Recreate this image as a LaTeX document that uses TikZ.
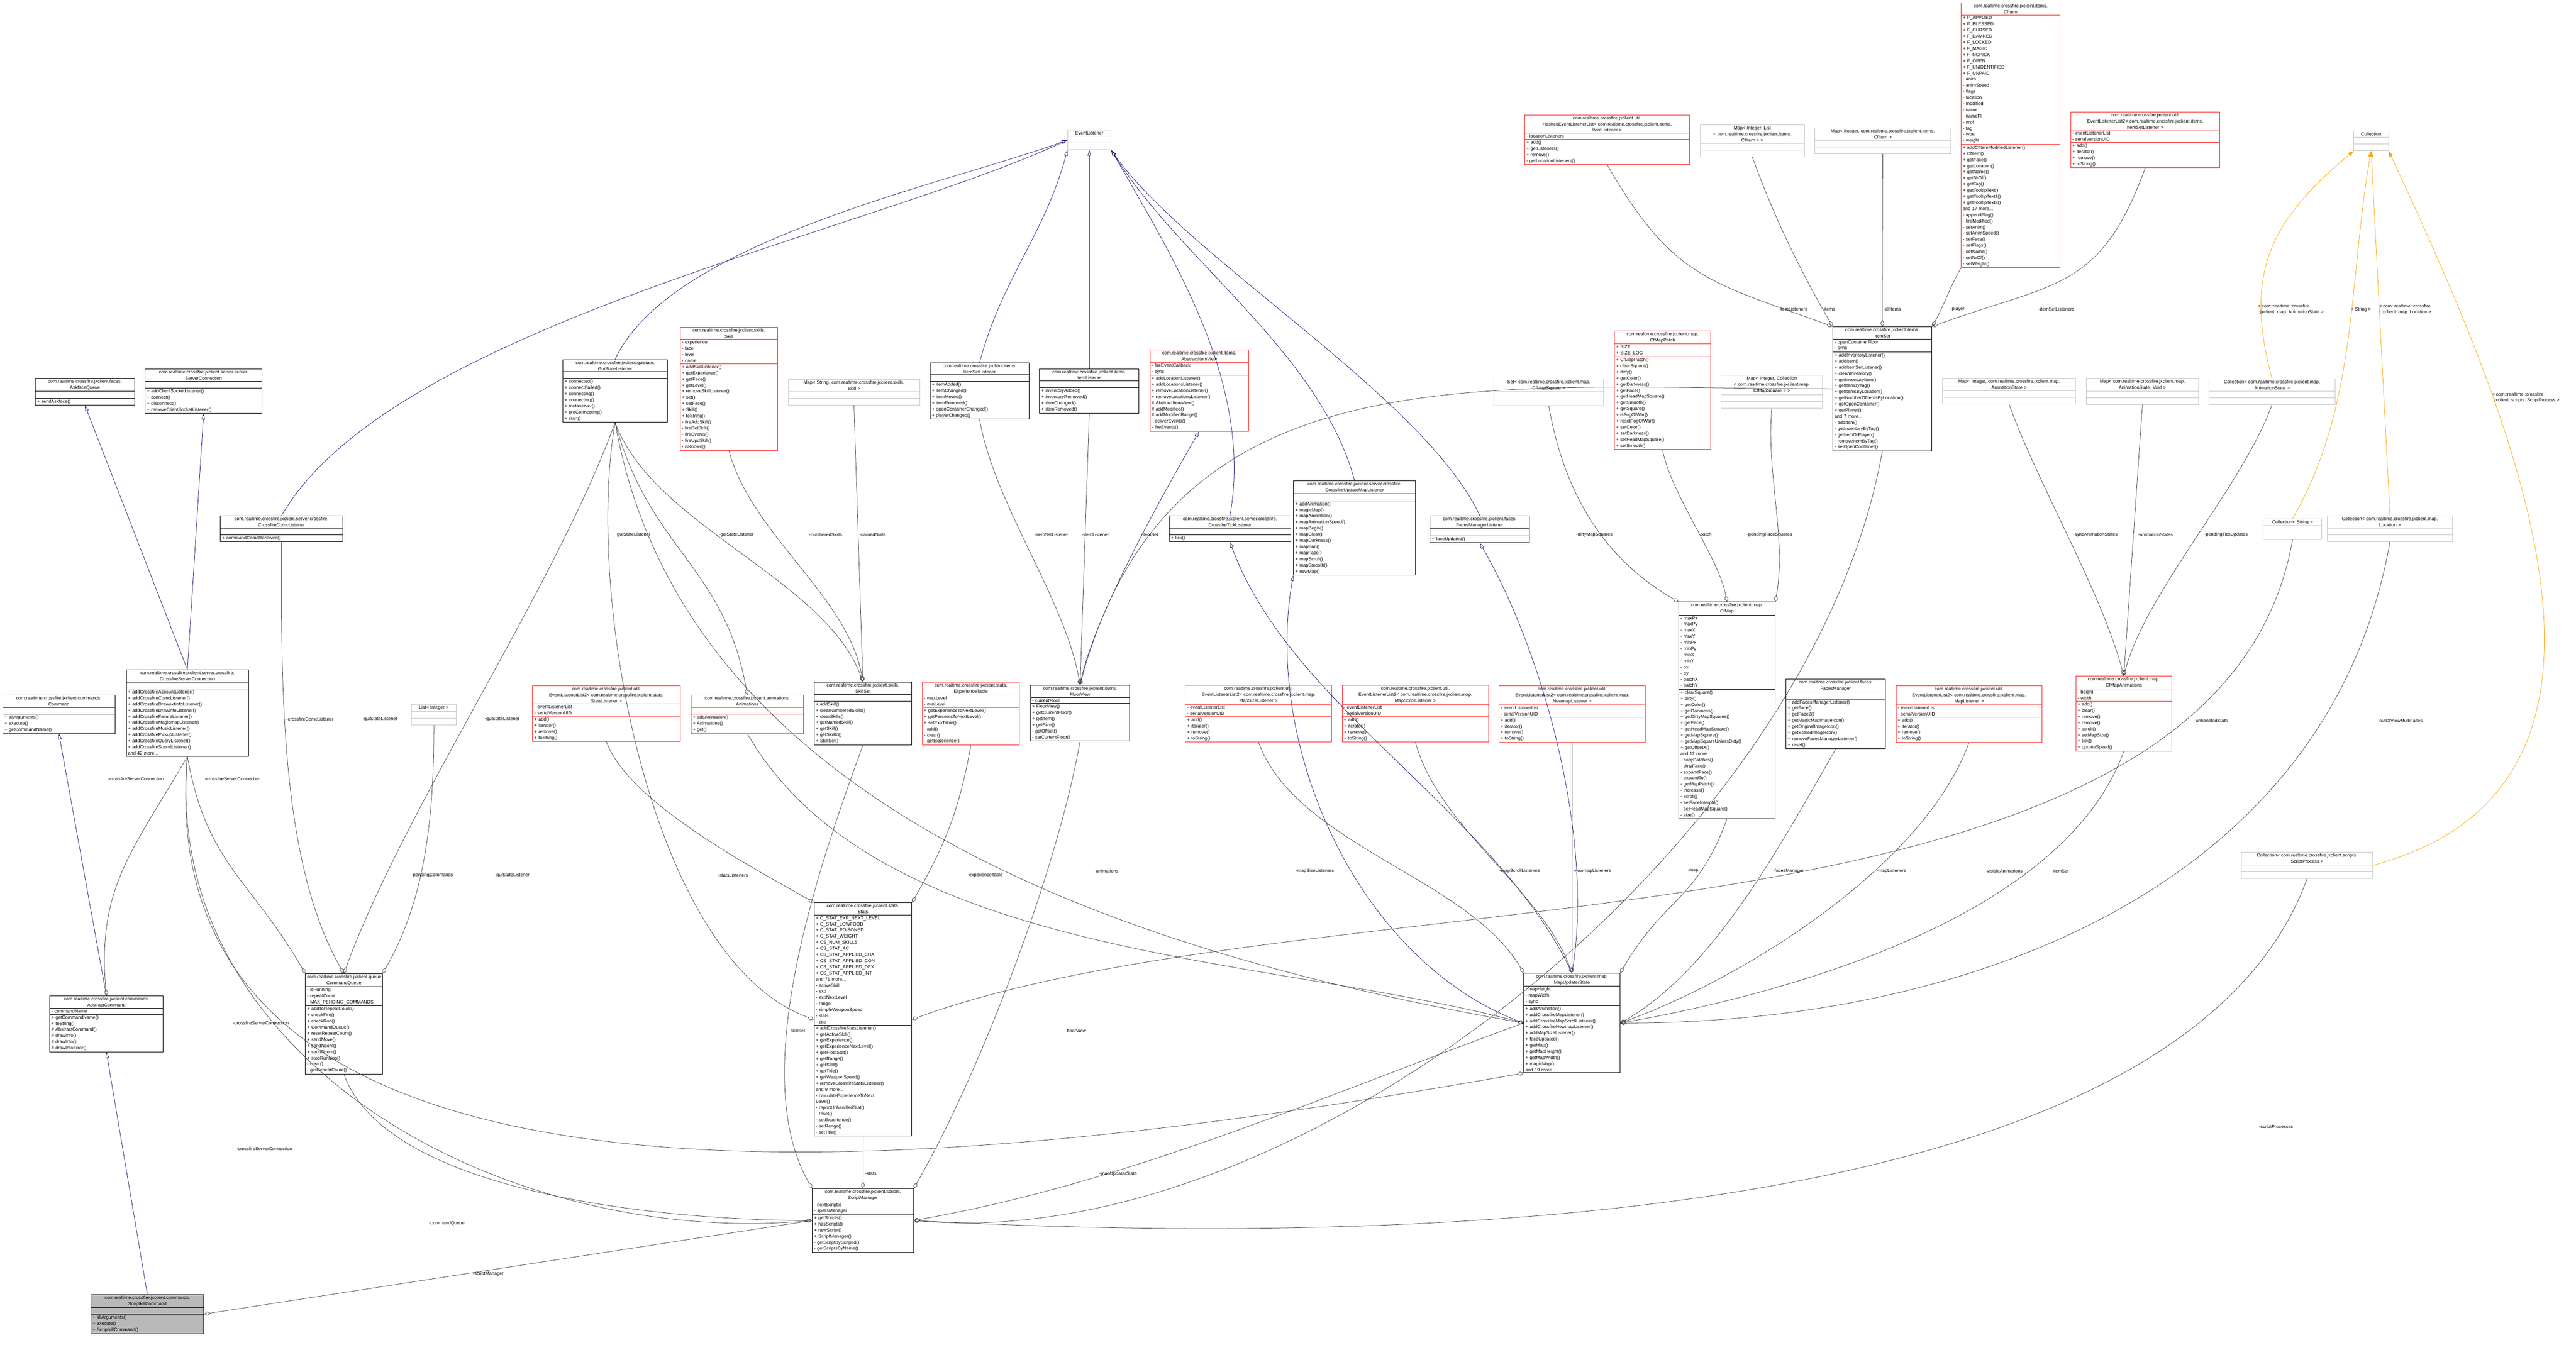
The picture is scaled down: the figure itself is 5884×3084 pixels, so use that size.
\documentclass[tikz,border=0pt]{standalone}
\usepackage{fontspec}
\setmainfont{Liberation Sans}
\usetikzlibrary{arrows.meta,shapes.multipart}

\definecolor{edgegray}{HTML}{404040}
\definecolor{inhblue}{HTML}{191970}
\definecolor{tmplorange}{HTML}{FFA500}

% class box: name, x, y (top left, pixels), width, style, title, attributes, methods
\newcommand\umlclass[8]{%
  \node[#5, text width=#4pt-8pt] (#1) at (#2,#3)
    {\centering #6\par\nodepart{second}#7\nodepart{third}#8};}
% curved connector: style, from, angle out, to, angle in, length (angles as on paper)
\newcommand\bend[6]{\draw[#1] (#2) .. controls +(-#3:#6) and +(-#5:#6) .. (#4);}

\tikzset{
  cls/.style={rectangle split, rectangle split parts=3, draw=black, line width=1.1pt,
    anchor=north west, align=left, inner xsep=4pt, inner ysep=2.5pt,
    font=\fontsize{10.5}{14}\selectfont},
  redcls/.style={cls, draw=red!85},
  tmplcls/.style={cls, draw=gray!45},
  hlcls/.style={cls, fill=gray!55},
  agg/.style={{Diamond[open,length=15pt,width=9pt]}-, draw=edgegray, line width=0.9pt},
  inh/.style={-{Triangle[open,length=13pt,width=8pt]}, draw=inhblue, line width=0.9pt},
  tmpl/.style={-{Triangle[length=13pt,width=9pt]}, draw=tmplorange, line width=0.9pt},
  lab/.style={anchor=west, inner sep=0pt, font=\fontsize{10.5}{12}\selectfont},
}

\newcommand\nil{\vphantom{Ag}}

\begin{document}
\begin{tikzpicture}[x=1pt,y=-1pt]
  \useasboundingbox (0,0) rectangle (5884,3084);

  % top row
  \umlclass{evl}{2438}{297}{99}{tmplcls}{EventListener}{\nil}{\nil}
  \umlclass{coll}{5376}{299}{79}{tmplcls}{Collection}{\nil}{\nil}
  \umlclass{hel}{3482}{262}{377}{redcls}{com.realtime.crossfire.jxclient.util.\\HashedEventListenerList< com.realtime.crossfire.jxclient.items.\\ItemListener >}{- locationListeners}{+ add()\\+ getListeners()\\+ remove()\\- getLocationListeners()}
  \umlclass{mil}{3883}{285}{238}{tmplcls}{Map< Integer, List\\< com.realtime.crossfire.jxclient.items.\\CfItem > >}{\nil}{\nil}
  \umlclass{mii}{4145}{292}{310}{tmplcls}{Map< Integer, com.realtime.crossfire.jxclient.items.\\CfItem >}{\nil}{\nil}
  \umlclass{cfitem}{4479}{6}{226}{redcls}{com.realtime.crossfire.jxclient.items.\\CfItem}{+ F\_APPLIED\\+ F\_BLESSED\\+ F\_CURSED\\+ F\_DAMNED\\+ F\_LOCKED\\+ F\_MAGIC\\+ F\_NOPICK\\+ F\_OPEN\\+ F\_UNIDENTIFIED\\+ F\_UNPAID\\- anim\\- animSpeed\\- flags\\- location\\- modified\\- name\\- namePl\\- nrof\\- tag\\- type\\- weight}{+ addCfItemModifiedListener()\\+ CfItem()\\+ getFace()\\+ getLocation()\\+ getName()\\+ getNrOf()\\+ getTag()\\+ getTooltipText()\\+ getTooltipText1()\\+ getTooltipText2()\\and 17 more...\\- appendFlag()\\- fireModified()\\- setAnim()\\- setAnimSpeed()\\- setFace()\\- setFlags()\\- setName()\\- setNrOf()\\- setWeight()}
  \umlclass{isll}{4729}{255}{341}{redcls}{com.realtime.crossfire.jxclient.util.\\EventListenerList2< com.realtime.crossfire.jxclient.items.\\ItemSetListener >}{- eventListenerList\\- serialVersionUID}{+ add()\\+ iterator()\\+ remove()\\+ toString()}

  % second row
  \umlclass{afq}{80}{864}{227}{cls}{com.realtime.crossfire.jxclient.faces.\\AskfaceQueue}{\nil}{+ sendAskface()}
  \umlclass{sc}{331}{843}{267}{cls}{com.realtime.crossfire.jxclient.server.server.\\ServerConnection}{\nil}{+ addClientSocketListener()\\+ connect()\\+ disconnect()\\+ removeClientSocketListener()}
  \umlclass{gsl}{1285}{821}{239}{cls}{com.realtime.crossfire.jxclient.guistate.\\GuiStateListener}{\nil}{+ connected()\\+ connectFailed()\\+ connecting()\\+ connecting()\\+ metaserver()\\+ preConnecting()\\+ start()}
  \umlclass{skill}{1553}{747}{223}{redcls}{com.realtime.crossfire.jxclient.skills.\\Skill}{- experience\\- face\\- level\\- name}{+ addSkillListener()\\+ getExperience()\\+ getFace()\\+ getLevel()\\+ removeSkillListener()\\+ set()\\+ setFace()\\+ Skill()\\+ toString()\\- fireAddSkill()\\- fireDelSkill()\\- fireEvents()\\- fireUpdSkill()\\- isKnown()}
  \umlclass{mss}{1800}{866}{300}{tmplcls}{Map< String, com.realtime.crossfire.jxclient.skills.\\Skill >}{\nil}{\nil}
  \umlclass{isl}{2124}{828}{226}{cls}{com.realtime.crossfire.jxclient.items.\\ItemSetListener}{\nil}{+ itemAdded()\\+ itemChanged()\\+ itemMoved()\\+ itemRemoved()\\+ openContainerChanged()\\+ playerChanged()}
  \umlclass{il}{2374}{842}{227}{cls}{com.realtime.crossfire.jxclient.items.\\ItemListener}{\nil}{+ inventoryAdded()\\+ inventoryRemoved()\\+ itemChanged()\\+ itemRemoved()}
  \umlclass{aiv}{2626}{799}{225}{redcls}{com.realtime.crossfire.jxclient.items.\\AbstractItemView}{- fireEventCallback\\- sync}{+ addLocationListener()\\+ addLocationsListener()\\+ removeLocationListener()\\+ removeLocationsListener()\\\# AbstractItemView()\\\# addModified()\\\# addModifiedRange()\\- deliverEvents()\\- fireEvents()}
  \umlclass{setsq}{3412}{865}{250}{tmplcls}{Set< com.realtime.crossfire.jxclient.map.\\CfMapSquare >}{\nil}{\nil}
  \umlclass{patch}{3687}{755}{220}{redcls}{com.realtime.crossfire.jxclient.map.\\CfMapPatch}{+ SIZE\\+ SIZE\_LOG}{+ CfMapPatch()\\+ clearSquare()\\+ dirty()\\+ getColor()\\+ getDarkness()\\+ getFace()\\+ getHeadMapSquare()\\+ getSmooth()\\+ getSquare()\\+ isFogOfWar()\\+ resetFogOfWar()\\+ setColor()\\+ setDarkness()\\+ setHeadMapSquare()\\+ setSmooth()}
  \umlclass{mic}{3931}{857}{231}{tmplcls}{Map< Integer, Collection\\< com.realtime.crossfire.jxclient.map.\\CfMapSquare > >}{\nil}{\nil}
  \umlclass{itemset}{4186}{746}{226}{cls}{com.realtime.crossfire.jxclient.items.\\ItemSet}{- openContainerFloor\\- sync}{+ addInventoryListener()\\+ addItem()\\+ addItemSetListener()\\+ cleanInventory()\\+ getInventoryItem()\\+ getItemByTag()\\+ getItemsByLocation()\\+ getNumberOfItemsByLocation()\\+ getOpenContainer()\\+ getPlayer()\\and 7 more...\\- addItem()\\- getInventoryByTag()\\- getItemOrPlayer()\\- removeItemByTag()\\- setOpenContainer()}
  \umlclass{mia}{4437}{864}{303}{tmplcls}{Map< Integer, com.realtime.crossfire.jxclient.map.\\AnimationState >}{\nil}{\nil}
  \umlclass{mav}{4765}{864}{256}{tmplcls}{Map< com.realtime.crossfire.jxclient.map.\\AnimationState, Void >}{\nil}{\nil}
  \umlclass{cas}{5045}{865}{288}{tmplcls}{Collection< com.realtime.crossfire.jxclient.map.\\AnimationState >}{\nil}{\nil}

  % listeners row
  \umlclass{ccl}{503}{1178}{279}{cls}{com.realtime.crossfire.jxclient.server.crossfire.\\CrossfireComcListener}{\nil}{+ commandComcReceived()}
  \umlclass{ctl}{2670}{1178}{278}{cls}{com.realtime.crossfire.jxclient.server.crossfire.\\CrossfireTickListener}{\nil}{+ tick()}
  \umlclass{cuml}{2954}{1098}{279}{cls}{com.realtime.crossfire.jxclient.server.crossfire.\\CrossfireUpdateMapListener}{\nil}{+ addAnimation()\\+ magicMap()\\+ mapAnimation()\\+ mapAnimationSpeed()\\+ mapBegin()\\+ mapClear()\\+ mapDarkness()\\+ mapEnd()\\+ mapFace()\\+ mapScroll()\\+ mapSmooth()\\+ newMap()}
  \umlclass{fml}{3266}{1178}{227}{cls}{com.realtime.crossfire.jxclient.faces.\\FacesManagerListener}{\nil}{+ faceUpdated()}
  \umlclass{cstr}{5169}{1185}{134}{tmplcls}{Collection< String >}{\nil}{\nil}
  \umlclass{cloc}{5315}{1178}{287}{tmplcls}{Collection< com.realtime.crossfire.jxclient.map.\\Location >}{\nil}{\nil}
  \umlclass{cfmap}{3834}{1375}{220}{cls}{com.realtime.crossfire.jxclient.map.\\CfMap}{- maxPx\\- maxPy\\- maxX\\- maxY\\- minPx\\- minPy\\- minX\\- minY\\- ox\\- oy\\- patchX\\- patchY}{+ clearSquare()\\+ dirty()\\+ getColor()\\+ getDarkness()\\+ getDirtyMapSquares()\\+ getFace()\\+ getHeadMapSquare()\\+ getMapSquare()\\+ getMapSquareUnlessDirty()\\+ getOffsetX()\\and 12 more...\\- copyPatches()\\- dirtyFace()\\- expandFace()\\- expandTo()\\- getMapPatch()\\- increase()\\- scroll()\\- setFaceInternal()\\- setHeadMapSquare()\\- size()}

  % middle row
  \umlclass{csc}{288}{1530}{279}{cls}{com.realtime.crossfire.jxclient.server.crossfire.\\CrossfireServerConnection}{\nil}{+ addCrossfireAccountListener()\\+ addCrossfireComcListener()\\+ addCrossfireDrawextinfoListener()\\+ addCrossfireDrawinfoListener()\\+ addCrossfireFailureListener()\\+ addCrossfireMagicmapListener()\\+ addCrossfireMusicListener()\\+ addCrossfirePickupListener()\\+ addCrossfireQueryListener()\\+ addCrossfireSoundListener()\\and 42 more...}
  \umlclass{cmd}{6}{1588}{256}{cls}{com.realtime.crossfire.jxclient.commands.\\Command}{\nil}{+ allArguments()\\+ execute()\\+ getCommandName()}
  \umlclass{sll}{1216}{1566}{337}{redcls}{com.realtime.crossfire.jxclient.util.\\EventListenerList2< com.realtime.crossfire.jxclient.stats.\\StatsListener >}{- eventListenerList\\- serialVersionUID}{+ add()\\+ iterator()\\+ remove()\\+ toString()}
  \umlclass{anims}{1578}{1588}{257}{redcls}{com.realtime.crossfire.jxclient.animations.\\Animations}{\nil}{+ addAnimation()\\+ Animations()\\+ get()}
  \umlclass{lint}{939}{1609}{103}{tmplcls}{List< Integer >}{\nil}{\nil}
  \umlclass{skillset}{1859}{1558}{223}{cls}{com.realtime.crossfire.jxclient.skills.\\SkillSet}{\nil}{+ addSkill()\\+ clearNumberedSkills()\\+ clearSkills()\\+ getNamedSkill()\\+ getSkill()\\+ getSkillId()\\+ SkillSet()}
  \umlclass{exptab}{2106}{1558}{222}{redcls}{com.realtime.crossfire.jxclient.stats.\\ExperienceTable}{- maxLevel\\- minLevel}{+ getExperienceToNextLevel()\\+ getPercentsToNextLevel()\\+ setExpTable()\\- add()\\- clear()\\- getExperience()}
  \umlclass{floor}{2353}{1565}{227}{cls}{com.realtime.crossfire.jxclient.items.\\FloorView}{- currentFloor}{+ FloorView()\\+ getCurrentFloor()\\+ getItem()\\+ getSize()\\- getOffset()\\- setCurrentFloor()}
  \umlclass{msl}{2707}{1565}{334}{redcls}{com.realtime.crossfire.jxclient.util.\\EventListenerList2< com.realtime.crossfire.jxclient.map.\\MapSizeListener >}{- eventListenerList\\- serialVersionUID}{+ add()\\+ iterator()\\+ remove()\\+ toString()}
  \umlclass{mscl}{3065}{1565}{335}{redcls}{com.realtime.crossfire.jxclient.util.\\EventListenerList2< com.realtime.crossfire.jxclient.map.\\MapScrollListener >}{- eventListenerList\\- serialVersionUID}{+ add()\\+ iterator()\\+ remove()\\+ toString()}
  \umlclass{nml}{3423}{1566}{335}{redcls}{com.realtime.crossfire.jxclient.util.\\EventListenerList2< com.realtime.crossfire.jxclient.map.\\NewmapListener >}{- eventListenerList\\- serialVersionUID}{+ add()\\+ iterator()\\+ remove()\\+ toString()}
  \umlclass{fm}{4079}{1551}{227}{cls}{com.realtime.crossfire.jxclient.faces.\\FacesManager}{\nil}{+ addFacesManagerListener()\\+ getFace()\\+ getFace2()\\+ getMagicMapImageIcon()\\+ getOriginalImageIcon()\\+ getScaledImageIcon()\\+ removeFacesManagerListener()\\+ reset()}
  \umlclass{mll}{4330}{1566}{334}{redcls}{com.realtime.crossfire.jxclient.util.\\EventListenerList2< com.realtime.crossfire.jxclient.map.\\MapListener >}{- eventListenerList\\- serialVersionUID}{+ add()\\+ iterator()\\+ remove()\\+ toString()}
  \umlclass{cfma}{4741}{1544}{219}{redcls}{com.realtime.crossfire.jxclient.map.\\CfMapAnimations}{- height\\- width}{+ add()\\+ clear()\\+ remove()\\+ remove()\\+ scroll()\\+ setMapSize()\\+ tick()\\+ updateSpeed()}
  \umlclass{csp}{5119}{1946}{300}{tmplcls}{Collection< com.realtime.crossfire.jxclient.scripts.\\ScriptProcess >}{\nil}{\nil}

  % lower rows
  \umlclass{stats}{1859}{2062}{223}{cls}{com.realtime.crossfire.jxclient.stats.\\Stats}{+ C\_STAT\_EXP\_NEXT\_LEVEL\\+ C\_STAT\_LOWFOOD\\+ C\_STAT\_POISONED\\+ C\_STAT\_WEIGHT\\+ CS\_NUM\_SKILLS\\+ CS\_STAT\_AC\\+ CS\_STAT\_APPLIED\_CHA\\+ CS\_STAT\_APPLIED\_CON\\+ CS\_STAT\_APPLIED\_DEX\\+ CS\_STAT\_APPLIED\_INT\\and 71 more...\\- activeSkill\\- exp\\- expNextLevel\\- range\\- simpleWeaponSpeed\\- stats\\- title}{+ addCrossfireStatsListener()\\+ getActiveSkill()\\+ getExperience()\\+ getExperienceNextLevel()\\+ getFloatStat()\\+ getRange()\\+ getStat()\\+ getTitle()\\+ getWeaponSpeed()\\+ removeCrossfireStatsListener()\\and 9 more...\\- calculateExperienceToNext\\Level()\\- reportUnhandledStat()\\- reset()\\- setExperience()\\- setRange()\\- setTitle()}
  \umlclass{cq}{697}{2224}{176}{cls}{com.realtime.crossfire.jxclient.queue.\\CommandQueue}{- isRunning\\- repeatCount\\- MAX\_PENDING\_COMMANDS}{+ addToRepeatCount()\\+ checkFire()\\+ checkRun()\\+ CommandQueue()\\+ resetRepeatCount()\\+ sendMove()\\+ sendNcom()\\+ sendNcom()\\+ stopRunning()\\- clear()\\- getRepeatCount()}
  \umlclass{mus}{3480}{2223}{220}{cls}{com.realtime.crossfire.jxclient.map.\\MapUpdaterState}{- mapHeight\\- mapWidth\\- sync}{+ addAnimation()\\+ addCrossfireMapListener()\\+ addCrossfireMapScrollListener()\\+ addCrossfireNewmapListener()\\+ addMapSizeListener()\\+ faceUpdated()\\+ getMap()\\+ getMapHeight()\\+ getMapWidth()\\+ magicMap()\\and 19 more...}
  \umlclass{acmd}{113}{2275}{259}{cls}{com.realtime.crossfire.jxclient.commands.\\AbstractCommand}{- commandName}{+ getCommandName()\\+ toString()\\\# AbstractCommand()\\\# drawInfo()\\\# drawInfo()\\\# drawInfoError()}
  \umlclass{sm}{1855}{2715}{231}{cls}{com.realtime.crossfire.jxclient.scripts.\\ScriptManager}{- nextScriptId\\- spellsManager}{+ getScripts()\\+ hasScripts()\\+ newScript()\\+ ScriptManager()\\- getScriptByScriptId()\\- getScriptsByName()}
  \umlclass{skc}{207}{2957}{258}{hlcls}{com.realtime.crossfire.jxclient.commands.\\ScriptkillCommand}{\nil}{+ allArguments()\\+ execute()\\+ ScriptkillCommand()}

  % inheritance
  \draw[inh] (skc.north) -- (acmd.south);
  \draw[inh] (acmd.north) -- (cmd.south);
  \draw[inh] (csc.north) -- (afq.south);
  \draw[inh] (csc.north) -- (sc.south);
  \bend{inh}{ccl.north}{60}{evl.west}{205}{500}
  \bend{inh}{gsl.north}{65}{evl.west}{200}{300}
  \bend{inh}{isl.north}{75}{evl.south west}{255}{200}
  \draw[inh] (il.north) -- (evl.south);
  \bend{inh}{ctl.north}{80}{evl.south east}{-60}{300}
  \bend{inh}{cuml.north}{105}{evl.south east}{-58}{300}
  \bend{inh}{fml.north}{115}{evl.south east}{-55}{300}
  \bend{inh}{floor.north}{80}{aiv.south}{240}{150}
  \bend{inh}{mus.north}{115}{ctl.south}{-70}{400}
  \bend{inh}{mus.west}{160}{cuml.south west}{-100}{400}
  \bend{inh}{mus.north}{80}{fml.south}{-60}{300}

  % template instances
  \bend{tmpl}{cas.north}{105}{coll.south west}{-140}{250}
  \bend{tmpl}{cstr.north}{60}{coll.south}{-100}{300}
  \draw[tmpl] (cloc.north) -- (coll.south);
  \bend{tmpl}{csp.east}{15}{coll.south east}{-65}{700}

  % aggregations
  \draw[agg] (skc.east) -- (sm.west);
  \bend{agg}{acmd.north}{95}{csc.south}{-120}{250}
  \bend{agg}{cq.north west}{120}{csc.south}{-80}{250}
  \bend{agg}{sm.west}{185}{csc.south}{-95}{700}
  \bend{agg}{mus.south west}{190}{csc.south}{-95}{1200}
  \bend{agg}{cq.north}{120}{ccl.south}{-90}{300}
  \bend{agg}{cq.north}{70}{gsl.south}{-110}{400}
  \bend{agg}{cq.north east}{60}{lint.south}{-90}{200}
  \bend{agg}{sm.west}{180}{cq.south}{-70}{300}
  \draw[agg] (sm.north) -- (stats.south);
  \bend{agg}{sm.north east}{60}{floor.south}{-100}{300}
  \bend{agg}{sm.east}{10}{mus.west}{200}{500}
  \bend{agg}{sm.north west}{120}{skillset.south}{-110}{300}
  \bend{agg}{sm.east}{-5}{itemset.south}{-100}{900}
  \bend{agg}{sm.east}{-3}{csp.south}{-110}{900}
  \bend{agg}{stats.north west}{150}{sll.south}{-70}{150}
  \bend{agg}{stats.north east}{60}{exptab.south}{-100}{150}
  \bend{agg}{stats.east}{20}{cstr.south}{-100}{1000}
  \bend{agg}{stats.west}{160}{gsl.south}{-100}{400}
  \bend{agg}{skillset.north}{110}{gsl.south}{-70}{250}
  \draw[agg] (skillset.north) -- (mss.south);
  \bend{agg}{skillset.north}{100}{skill.south}{-75}{200}
  \bend{agg}{anims.north}{100}{gsl.south}{-75}{300}
  \bend{agg}{floor.north}{100}{isl.south}{-80}{200}
  \draw[agg] (floor.north) -- (il.south);
  \bend{agg}{floor.north}{75}{itemset.west}{180}{800}
  \bend{agg}{mus.north west}{120}{msl.south}{-70}{250}
  \bend{agg}{mus.north}{110}{mscl.south}{-75}{200}
  \draw[agg] (mus.north) -- (nml.south);
  \bend{agg}{mus.north east}{60}{cfmap.south}{-110}{200}
  \bend{agg}{mus.east}{30}{fm.south}{-120}{250}
  \bend{agg}{mus.east}{20}{mll.south}{-110}{300}
  \bend{agg}{mus.east}{10}{cfma.south}{-110}{400}
  \bend{agg}{mus.west}{165}{anims.south}{-60}{600}
  \bend{agg}{mus.west}{170}{gsl.south}{-80}{900}
  \bend{agg}{mus.east}{0}{cloc.south}{-100}{800}
  \bend{agg}{cfmap.north west}{150}{setsq.south}{-80}{200}
  \bend{agg}{cfmap.north}{100}{patch.south}{-80}{100}
  \bend{agg}{cfmap.north east}{80}{mic.south}{-95}{150}
  \bend{agg}{itemset.north west}{160}{hel.south}{-60}{300}
  \bend{agg}{itemset.north west}{120}{mil.south}{-70}{150}
  \draw[agg] (itemset.north) -- (mii.south);
  \bend{agg}{itemset.north east}{60}{cfitem.south west}{-120}{50}
  \bend{agg}{itemset.north east}{20}{isll.south}{-110}{300}
  \bend{agg}{cfma.north}{105}{mia.south}{-70}{200}
  \draw[agg] (cfma.north) -- (mav.south);
  \bend{agg}{cfma.north}{75}{cas.south}{-110}{200}

  % role labels
  \node[lab] (l1) at (1080,2910) {-scriptManager};
  \node[lab] (l2) at (247,1780) {-crossfireServerConnection};
  \node[lab] (l3) at (468,1780) {-crossfireServerConnection};
  \node[lab] (l4) at (532,2337) {-crossfireServerConnection};
  \node[lab] (l5) at (540,2625) {-crossfireServerConnection};
  \node[lab] (l6) at (654,1643) {-crossfireComcListener};
  \node[lab] (l7) at (828,1643) {-guiStateListener};
  \node[lab] (l8) at (1107,1643) {-guiStateListener};
  \node[lab] (l9) at (940,2000) {-pendingCommands};
  \node[lab] (l10) at (980,2795) {-commandQueue};
  \node[lab] (l11) at (1976,2682) {-stats};
  \node[lab] (l12) at (2434,2355) {-floorView};
  \node[lab] (l13) at (2511,2682) {-mapUpdaterState};
  \node[lab] (l14) at (1802,2355) {-skillSet};
  \node[lab] (l15) at (5160,2575) {-scriptProcesses};
  \node[lab] (l16) at (1640,2000) {-statsListeners};
  \node[lab] (l17) at (2210,2000) {-experienceTable};
  \node[lab] (l18) at (5012,1647) {-unhandledStats};
  \node[lab] (l19) at (1406,1222) {-guiStateListener};
  \node[lab] (l20) at (1963,1222) {-namedSkills};
  \node[lab] (l21) at (1848,1222) {-numberedSkills};
  \node[lab] (l22) at (1642,1222) {-guiStateListener};
  \node[lab] (l23) at (2363,1222) {-itemSetListener};
  \node[lab] (l24) at (2472,1222) {-itemListener};
  \node[lab] (l25) at (2606,1222) {-itemSet};
  \node[lab] (l26) at (2960,1990) {-mapSizeListeners};
  \node[lab] (l27) at (3425,1990) {-mapScrollListeners};
  \node[lab] (l28) at (3594,1990) {-newmapListeners};
  \node[lab] (l29) at (3855,1990) {-map};
  \node[lab] (l30) at (4050,1990) {-facesManager};
  \node[lab] (l31) at (4287,1990) {-mapListeners};
  \node[lab] (l32) at (4535,1990) {-visibleAnimations};
  \node[lab] (l33) at (2500,1990) {-animations};
  \node[lab] (l34) at (1130,2000) {-guiStateListener};
  \node[lab] (l35) at (5431,1647) {-outOfViewMultiFaces};
  \node[lab] (l36) at (4686,1990) {-itemSet};
  \node[lab] (l37) at (3600,1222) {-dirtyMapSquares};
  \node[lab] (l38) at (3880,1222) {-patch};
  \node[lab] (l39) at (3990,1222) {-pendingFaceSquares};
  \node[lab] (l40) at (4062,706) {-itemListeners};
  \node[lab] (l41) at (4163,706) {-items};
  \node[lab] (l42) at (4302,706) {-allItems};
  \node[lab] (l43) at (4455,706) {-player};
  \node[lab] (l44) at (4656,706) {-itemSetListeners};
  \node[lab] (l45) at (4735,1222) {-syncAnimationStates};
  \node[lab] (l46) at (4884,1222) {-animationStates};
  \node[lab] (l47) at (5035,1222) {-pendingTickUpdates};
  \node[lab, align=left] (l48) at (5157,707) {< com::realtime::crossfire\\::jxclient::map::AnimationState >};
  \node[lab] (l49) at (5370,707) {< String >};
  \node[lab, align=left] (l50) at (5434,707) {< com::realtime::crossfire\\::jxclient::map::Location >};
  \node[lab, align=left] (l51) at (5692,908) {< com::realtime::crossfire\\::jxclient::scripts::ScriptProcess >};
\end{tikzpicture}
\end{document}
